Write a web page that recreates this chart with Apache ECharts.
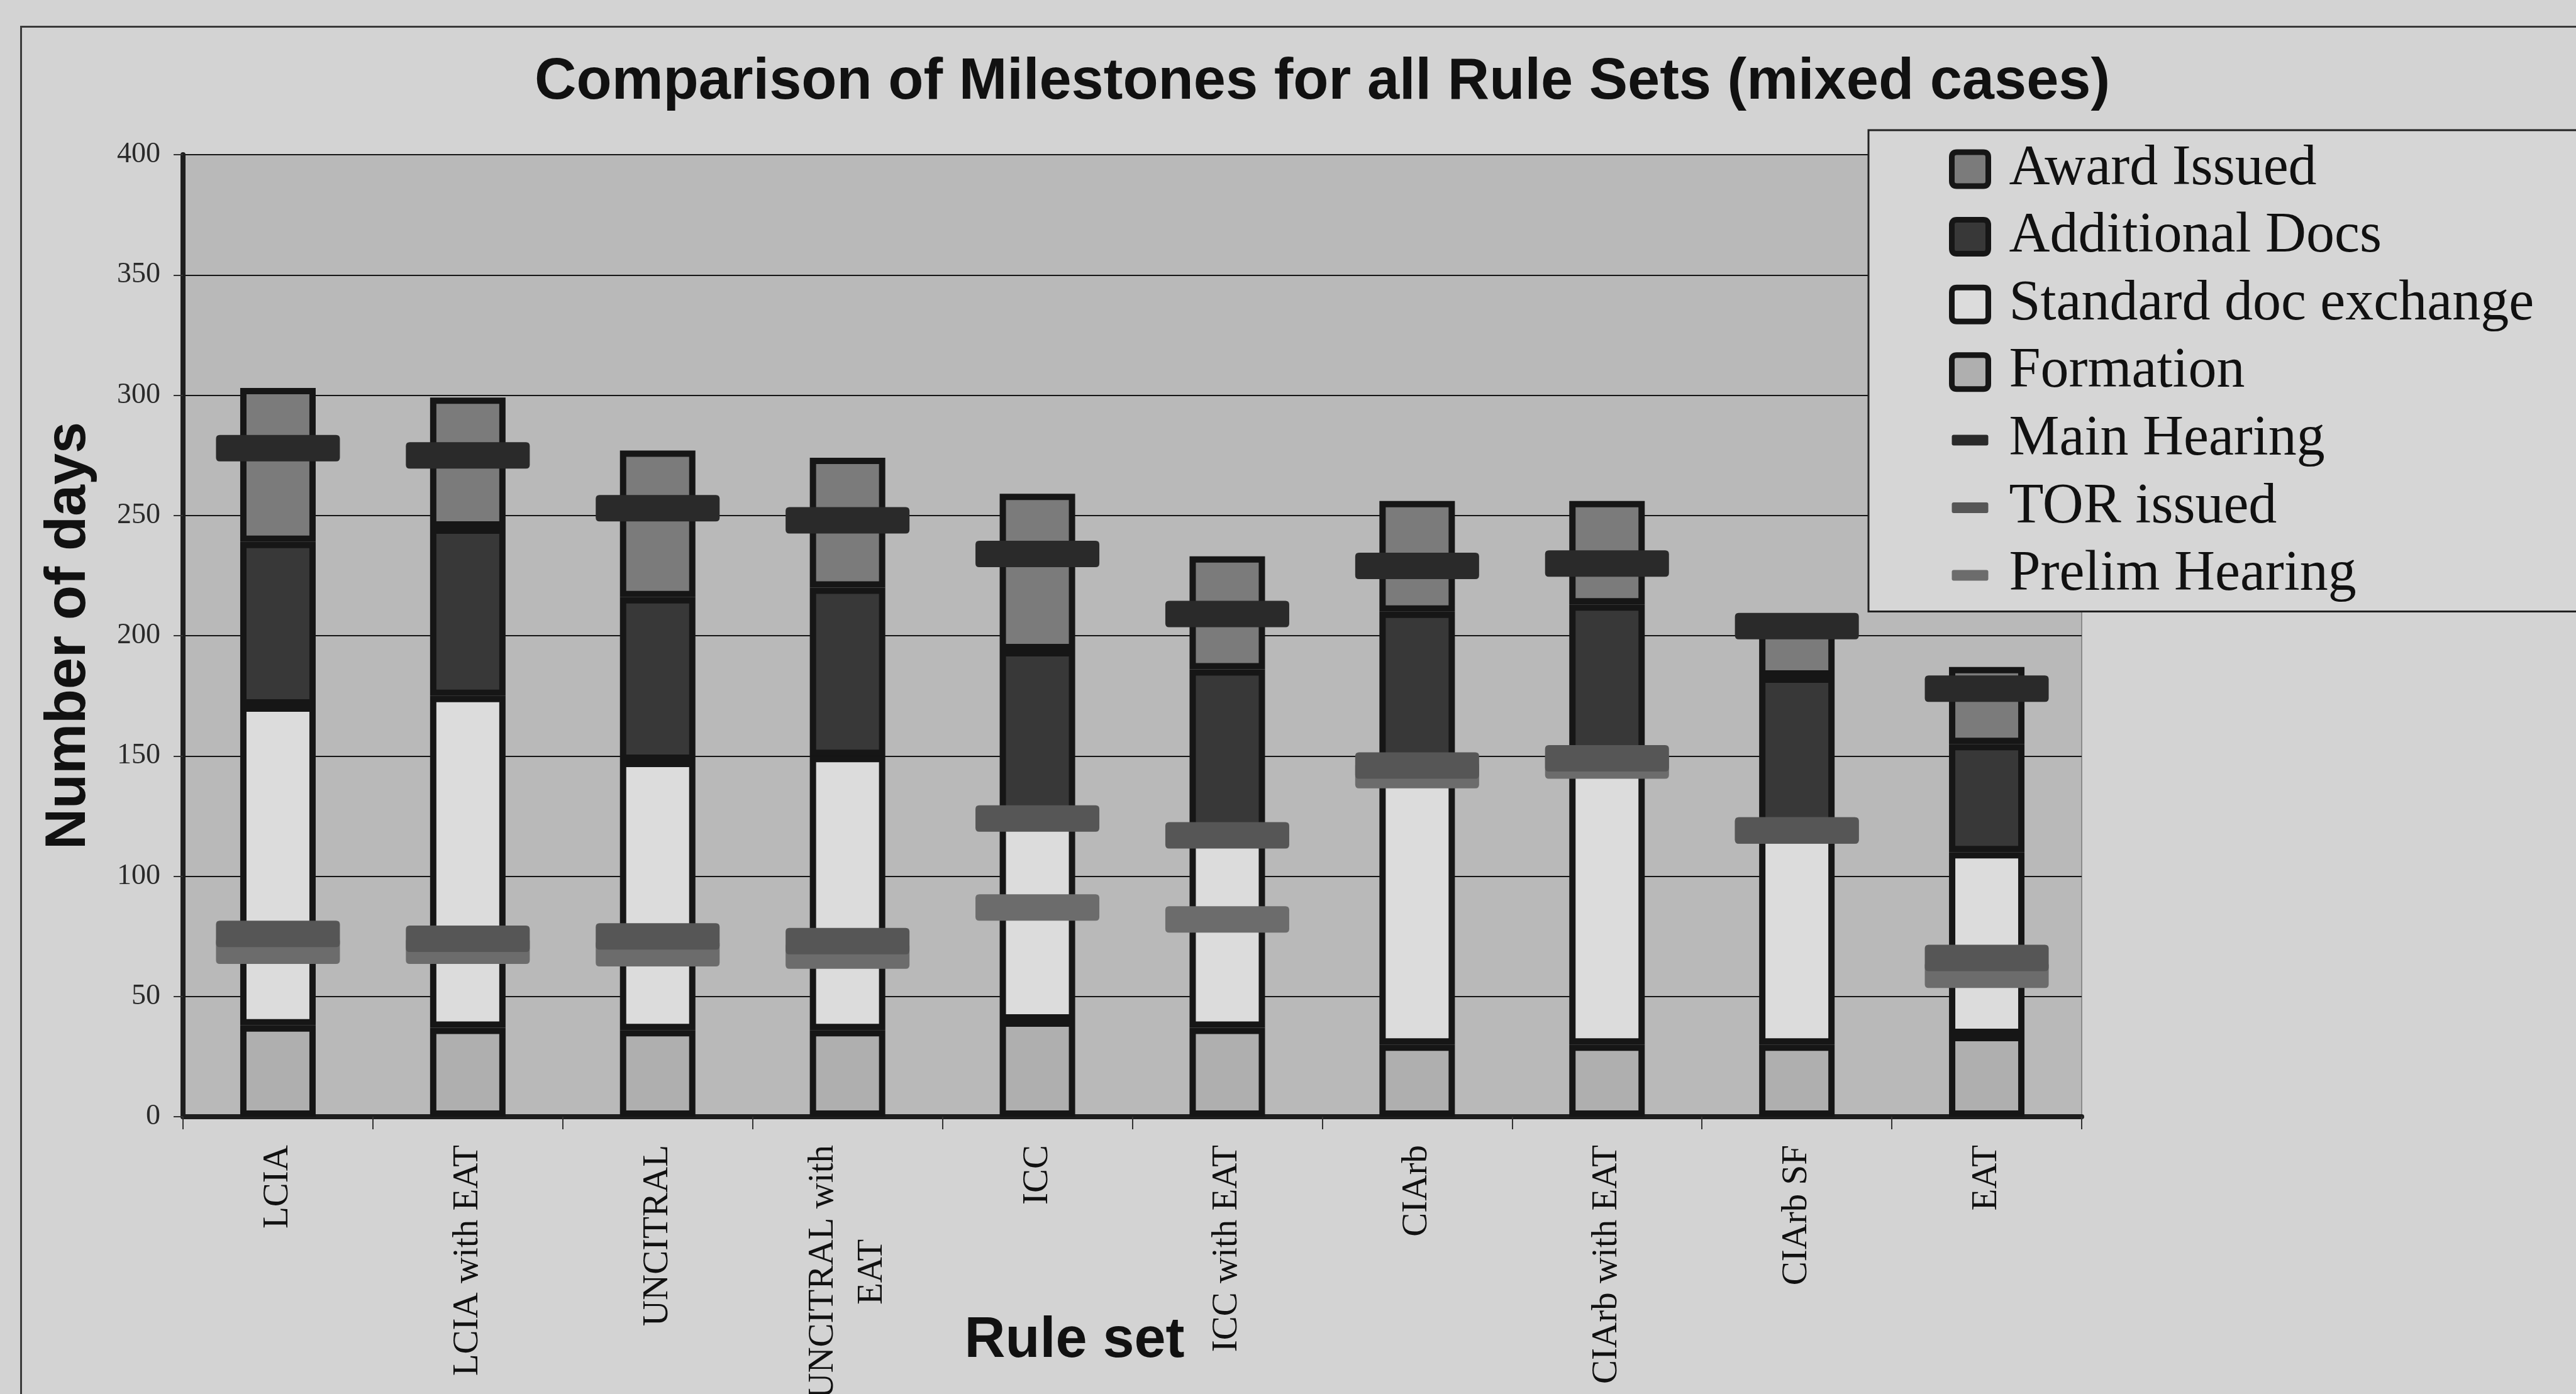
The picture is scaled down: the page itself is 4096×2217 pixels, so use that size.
<!DOCTYPE html>
<html>
<head>
<meta charset="utf-8">
<script src="https://cdn.jsdelivr.net/npm/echarts@6/dist/echarts.min.js"></script>
<style>
  html, body { margin: 0; padding: 0; background: #d3d3d3; }
  #chart { width: 4096px; height: 2217px; }
</style>
</head>
<body>
<div id="chart"></div>
<script>
// Rule sets on the category axis (line break where the label wraps)
const ruleSets = ['LCIA', 'LCIA with EAT', 'UNCITRAL', 'UNCITRAL with\nEAT', 'ICC',
  'ICC with EAT', 'CIArb', 'CIArb with EAT', 'CIArb SF', 'EAT'];

// Stage durations in days (stacked bottom to top)
const formation       = [38, 37, 36, 36, 40, 37, 30, 30, 30, 34];
const standardDocs    = [133, 138, 112, 114, 85, 81, 113, 116, 87, 76];
const additionalDocs  = [68, 70, 68, 70, 69, 68, 67, 67, 66, 45];
const awardIssued     = [64, 54, 61, 54, 65, 47, 46, 43, 25, 32];

// Milestones in days from the start of the case
const mainHearing     = [278, 275, 253, 248, 234, 209, 229, 230, 204, 178];
const torIssued       = [76, 74, 75, 73, 124, 117, 146, 149, 119, 66];
const prelimHearing   = [69, 69, 68, 67, 87, 82, 142, 146, 119, 59];

// Value axis ticks
const yMin = 0, yMax = 400, yStep = 50;

const serif = '"Liberation Serif", "Times New Roman", serif';
const sans = '"Liberation Sans", Arial, sans-serif';
const barBorder = '#161616';

function stackBar(name, data, color) {
  return {
    name, type: 'bar', stack: 'days', data,
    barWidth: 120,
    itemStyle: { color, borderColor: barBorder, borderWidth: 10 },
    emphasis: { disabled: true }
  };
}

// Milestone marker: wide bar with slightly rounded corners
const markerPath = 'path://M6,0H191Q197,0 197,6V36Q197,42 191,42H6Q0,42 0,36V6Q0,0 6,0Z';
function milestone(name, data, color) {
  return {
    name, type: 'scatter', data,
    symbol: markerPath, symbolSize: [197, 42], symbolKeepAspect: false,
    itemStyle: { color, opacity: 1 },
    emphasis: { disabled: true }
  };
}

// Legend glyphs: small rounded square for stages, short thick dash for milestones
const boxIcon = 'path://M8,0H50Q58,0 58,8V46Q58,54 50,54H8Q0,54 0,46V8Q0,0 8,0Z';
const dashIcon = 'path://M0,0M3,19H55Q58,19 58,22V33Q58,36 55,36H3Q0,36 0,33V22Q0,19 3,19ZM58,54';

const chart = echarts.init(document.getElementById('chart'));
chart.setOption({
  backgroundColor: '#d3d3d3',
  animation: false,
  title: {
    text: 'Comparison of Milestones for all Rule Sets (mixed cases)',
    left: 850, top: 82, padding: 0,
    textStyle: { fontFamily: sans, fontWeight: 'bold', fontSize: 92, lineHeight: 100, color: '#111' }
  },
  graphic: [{
    type: 'rect', left: 31, top: 40, silent: true, z: -10,
    shape: { width: 5000, height: 5000 },
    style: { fill: 'none', stroke: '#3a3a3a', lineWidth: 3 }
  }],
  legend: {
    orient: 'vertical',
    left: 2971, top: 207,
    padding: [12, 320, 8, 128],
    backgroundColor: '#d6d6d6',
    borderColor: '#222', borderWidth: 3,
    itemWidth: 58, itemHeight: 54, itemGap: 7.6,
    itemStyle: { borderWidth: 9, borderColor: barBorder },
    textStyle: { fontFamily: serif, fontSize: 90, lineHeight: 100, color: '#111', padding: [0, 0, 0, 28] },
    selectedMode: false,
    data: [
      { name: 'Award Issued', icon: boxIcon },
      { name: 'Additional Docs', icon: boxIcon },
      { name: 'Standard doc exchange', icon: boxIcon },
      { name: 'Formation', icon: boxIcon },
      { name: 'Main Hearing', icon: dashIcon, itemStyle: { borderWidth: 0 } },
      { name: 'TOR issued', icon: dashIcon, itemStyle: { borderWidth: 0 } },
      { name: 'Prelim Hearing', icon: dashIcon, itemStyle: { borderWidth: 0 } }
    ]
  },
  grid: {
    left: 291, right: 786, top: 246, bottom: 441,
    outerBoundsMode: 'none',
    show: true, backgroundColor: '#b9b9b9', borderColor: '#8a8a8a', borderWidth: 2
  },
  xAxis: {
    type: 'category', data: ruleSets,
    name: 'Rule set', nameLocation: 'middle', nameGap: 312, nameMoveOverlap: false,
    nameTextStyle: { fontFamily: sans, fontWeight: 'bold', fontSize: 90, lineHeight: 90, color: '#111', padding: [0, 184, 0, 0] },
    axisLine: { show: true, lineStyle: { color: '#1e1e1e', width: 8 } },
    axisTick: { show: true, alignWithLabel: false, length: 20, lineStyle: { color: '#333', width: 2 } },
    axisLabel: {
      rotate: 90, margin: 45, interval: 0, color: '#111',
      fontFamily: serif, fontSize: 57,
      formatter: v => v.split('\n').map(s => '{c|' + s + '}').join('\n'),
      rich: { c: { align: 'center', fontFamily: serif, fontSize: 57, lineHeight: 78, color: '#111' } }
    },
    splitLine: { show: false }
  },
  yAxis: {
    type: 'value', min: yMin, max: yMax, interval: yStep,
    name: 'Number of days', nameLocation: 'middle', nameGap: 136, nameMoveOverlap: false,
    nameTextStyle: { fontFamily: sans, fontWeight: 'bold', fontSize: 90, lineHeight: 90, color: '#111' },
    axisLine: { show: true, lineStyle: { color: '#1e1e1e', width: 8 } },
    axisTick: { show: true, length: 15, lineStyle: { color: '#333', width: 2 } },
    axisLabel: { margin: 36, fontFamily: serif, fontSize: 46, color: '#2a2a2a' },
    splitLine: { show: true, lineStyle: { color: '#151515', width: 2 } }
  },
  series: [
    stackBar('Formation', formation, '#afafaf'),
    stackBar('Standard doc exchange', standardDocs, '#dcdcdc'),
    stackBar('Additional Docs', additionalDocs, '#383838'),
    stackBar('Award Issued', awardIssued, '#7b7b7b'),
    milestone('Prelim Hearing', prelimHearing, '#6c6c6c'),
    milestone('TOR issued', torIssued, '#565656'),
    milestone('Main Hearing', mainHearing, '#2a2a2a')
  ]
});
</script>
</body>
</html>
